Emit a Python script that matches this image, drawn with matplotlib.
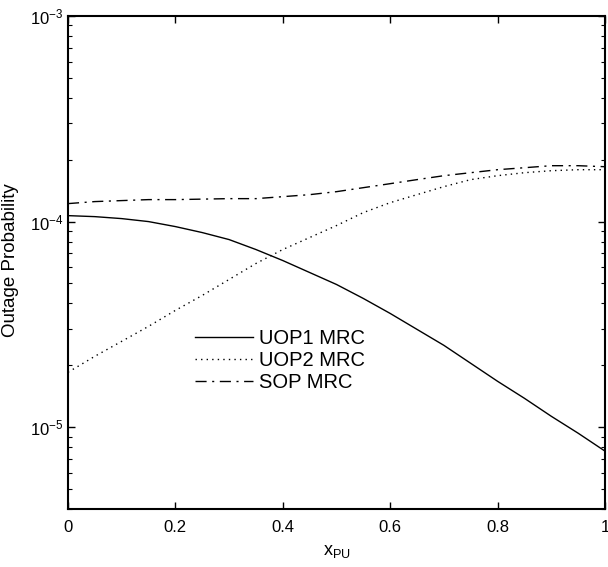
import matplotlib
matplotlib.use("Agg")
import matplotlib.pyplot as plt

plt.rcParams['font.family'] = ['Liberation Sans', 'DejaVu Sans']
plt.rcParams['mathtext.fontset'] = 'custom'
plt.rcParams['mathtext.rm'] = 'Liberation Sans'
plt.rcParams['mathtext.it'] = 'Liberation Sans'

# data
x_pu = [0.0, 0.05, 0.1, 0.15, 0.2, 0.25, 0.3, 0.35, 0.4, 0.45, 0.5,
        0.55, 0.6, 0.65, 0.7, 0.75, 0.8, 0.85, 0.9, 0.95, 1.0]
uop1 = [1.069e-4, 1.057e-4, 1.034e-4, 1.000e-4, 9.456e-5, 8.843e-5, 8.176e-5,
        7.313e-5, 6.465e-5, 5.654e-5, 4.945e-5, 4.228e-5, 3.575e-5, 2.990e-5,
        2.501e-5, 2.045e-5, 1.672e-5, 1.382e-5, 1.130e-5, 9.35e-6, 7.65e-6]
uop2 = [1.849e-5, 2.212e-5, 2.615e-5, 3.093e-5, 3.698e-5, 4.373e-5, 5.229e-5,
        6.253e-5, 7.313e-5, 8.363e-5, 9.563e-5, 1.106e-4, 1.236e-4, 1.352e-4,
        1.479e-4, 1.600e-4, 1.672e-4, 1.729e-4, 1.768e-4, 1.788e-4, 1.788e-4]
sop = [1.223e-4, 1.251e-4, 1.265e-4, 1.279e-4, 1.279e-4, 1.286e-4, 1.293e-4,
       1.293e-4, 1.322e-4, 1.352e-4, 1.398e-4, 1.462e-4, 1.529e-4, 1.600e-4,
       1.672e-4, 1.729e-4, 1.788e-4, 1.828e-4, 1.870e-4, 1.870e-4, 1.849e-4]

fig = plt.figure(figsize=(6.08, 5.67), dpi=100)
ax = fig.add_axes([0.1118, 0.1023, 0.8832, 0.8695])

ax.semilogy(x_pu, uop1, color='black', linestyle='-', linewidth=1.0, label='UOP1 MRC')
ax.semilogy(x_pu, uop2, color='black', linestyle=(0, (1, 3)), linewidth=1.0, label='UOP2 MRC')
ax.semilogy(x_pu, sop, color='black', linestyle=(0, (8, 4, 1.5, 4)), linewidth=1.0, label='SOP MRC')

ax.set_xlim(0, 1)
ax.set_ylim(4e-6, 1e-3)
ax.set_xticks([0, 0.2, 0.4, 0.6, 0.8, 1])
ax.set_xticklabels(['0', '0.2', '0.4', '0.6', '0.8', '1'])
ax.tick_params(which='both', direction='in', top=True, right=True, labelsize=12)
ax.tick_params(which='major', length=5, width=1)
ax.tick_params(which='minor', length=3, width=0.8)
ax.tick_params(axis='x', pad=8)
for s in ax.spines.values():
    s.set_linewidth(1.5)

ax.set_xlabel('x$_{\\mathrm{PU}}$', fontsize=13, labelpad=6)
ax.set_ylabel('Outage Probability', fontsize=13.5)
ax.yaxis.set_label_coords(-0.092, 0.505)

ax.legend(loc='center left', bbox_to_anchor=(0.2365, 0.302), frameon=False,
          fontsize=14.5, handlelength=2.9, handletextpad=0.3, labelspacing=0.15,
          borderpad=0, borderaxespad=0)

fig.savefig('out.png', dpi=100)
